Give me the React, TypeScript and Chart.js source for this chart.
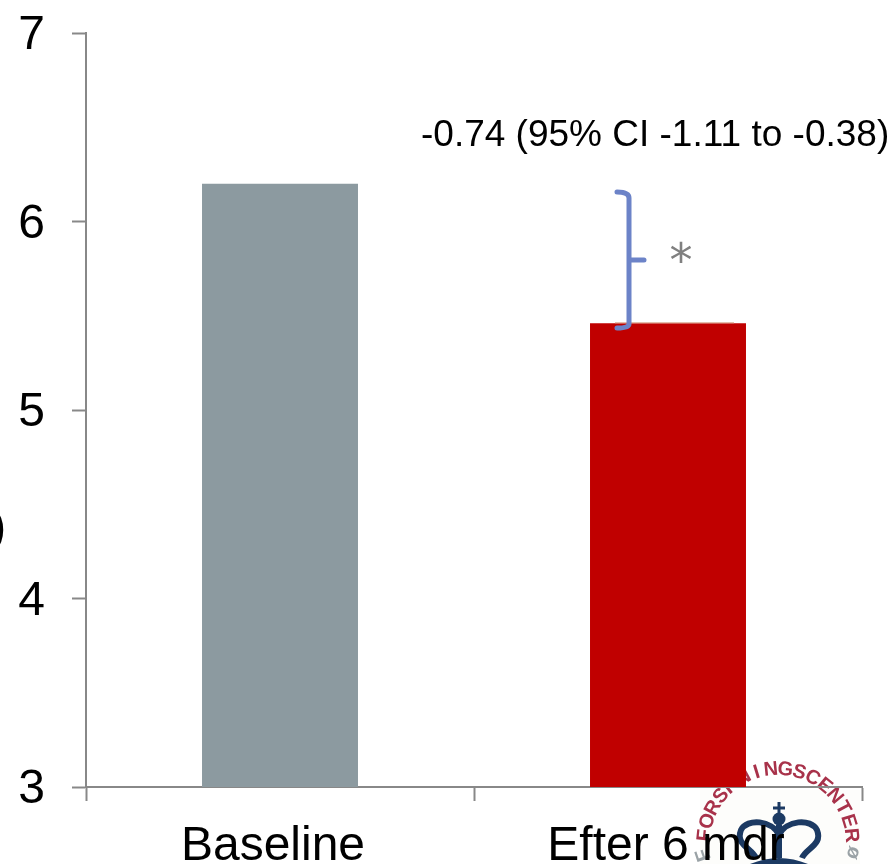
import React, { useEffect, useRef } from "react";
import { Chart, registerables } from "chart.js";

Chart.register(...registerables);

const categories = ["Baseline", "Efter 6 mdr"];
const values = [6.2, 5.46];
const barColors = ["#8C9AA0", "#C00000"];
const yMin = 3;
const yMax = 7;
const annotation = "-0.74 (95% CI -1.11 to -0.38)";
const bracketTop = 6.156;
const bracketBottom = 5.435;
const logoRing = "FORSKNINGSCENTER";
const labelShift = [-7, -2];
const FONT = '"Liberation Sans", Arial, sans-serif';

function drawLogo(ctx: CanvasRenderingContext2D) {
  const cx = 778;
  const cy = 843;
  ctx.save();
  ctx.fillStyle = "#FDFDFB";
  ctx.fillRect(700, 790, 160, 74);
  ctx.font = `bold 20px ${FONT}`;
  ctx.textAlign = "center";
  ctx.textBaseline = "alphabetic";
  ctx.fillStyle = "#A8324A";
  const start = -84;
  const step = 11.2;
  [...logoRing].forEach((ch, i) => {
    const a = ((start + i * step) * Math.PI) / 180;
    ctx.save();
    ctx.translate(cx + Math.sin(a) * 68, cy - Math.cos(a) * 68);
    ctx.rotate(a);
    ctx.fillText(ch, 0, 0);
    ctx.restore();
  });
  ctx.fillStyle = "#9AA2A6";
  const lower: [string, number, number, number][] = [
    ["F", 709, 853, -1.9],
    ["\u00F8", 848, 851, 1.9],
  ];
  lower.forEach(([ch, x, y, r]) => {
    ctx.save();
    ctx.translate(x, y);
    ctx.rotate(r);
    ctx.fillText(ch, 0, 0);
    ctx.restore();
  });

  const navy = "#1C3A63";
  ctx.strokeStyle = navy;
  ctx.fillStyle = navy;
  ctx.lineWidth = 3;
  ctx.beginPath();
  ctx.moveTo(779, 802);
  ctx.lineTo(779, 815);
  ctx.moveTo(773, 808);
  ctx.lineTo(785, 808);
  ctx.stroke();
  ctx.beginPath();
  ctx.arc(779, 819, 6.5, 0, Math.PI * 2);
  ctx.fill();
  ctx.lineWidth = 6;
  ctx.beginPath();
  ctx.moveTo(779, 825);
  ctx.lineTo(779, 858);
  ctx.moveTo(756, 858);
  ctx.bezierCurveTo(752, 848, 735, 845, 741, 830);
  ctx.bezierCurveTo(747, 818, 772, 820, 779, 835);
  ctx.bezierCurveTo(786, 820, 811, 818, 817, 830);
  ctx.bezierCurveTo(823, 845, 806, 848, 802, 858);
  ctx.stroke();
  ctx.beginPath();
  ctx.moveTo(750, 864);
  ctx.quadraticCurveTo(779, 852, 808, 864);
  ctx.closePath();
  ctx.fill();
  ctx.restore();
}

const overlays = {
  id: "overlays",
  beforeDraw(chart: any) {
    drawLogo(chart.ctx);
    const { x, y } = chart.scales;
    x.getLabelItems(chart.chartArea).forEach((item: any, i: number) => {
      if (!item.shifted) {
        item.options.translation = [item.options.translation[0] + labelShift[i], item.options.translation[1]];
        item.shifted = true;
      }
    });
    y.getLabelItems(chart.chartArea).forEach((item: any) => {
      if (!item.shifted) {
        item.options.translation = [item.options.translation[0] + 1, item.options.translation[1] + 3];
        item.shifted = true;
      }
    });
  },
  afterDraw(chart: any) {
    const { ctx, scales } = chart;
    const y = scales.y;
    const barTop = y.getPixelForValue(values[1]);
    const top = y.getPixelForValue(bracketTop);
    const bottom = y.getPixelForValue(bracketBottom);
    const mid = (top + bottom) / 2;
    ctx.save();

    ctx.strokeStyle = "#D9A58C";
    ctx.lineWidth = 1;
    ctx.beginPath();
    ctx.moveTo(615, barTop - 0.5);
    ctx.lineTo(734, barTop - 0.5);
    ctx.stroke();

    ctx.strokeStyle = "#6C83C8";
    ctx.lineWidth = 5;
    ctx.lineCap = "round";
    ctx.lineJoin = "round";
    ctx.beginPath();
    ctx.moveTo(617, top);
    ctx.quadraticCurveTo(629, top, 629, top + 6);
    ctx.lineTo(629, bottom - 4);
    ctx.quadraticCurveTo(629, bottom, 617, bottom);
    ctx.moveTo(629, mid);
    ctx.lineTo(644, mid);
    ctx.stroke();

    ctx.fillStyle = "#000000";
    ctx.font = `37px ${FONT}`;
    ctx.textAlign = "left";
    ctx.textBaseline = "alphabetic";
    ctx.fillText(annotation, 421, 146);

    ctx.font = `46px ${FONT}`;
    ctx.textAlign = "right";
    ctx.fillText(")", 6, 542);

    ctx.fillStyle = "#808080";
    ctx.font = `46px "DejaVu Sans", sans-serif`;
    ctx.textAlign = "center";
    ctx.fillText("*", 681, 276);
    ctx.restore();
  },
};

export default function App() {
  const ref = useRef<HTMLCanvasElement>(null);
  useEffect(() => {
    if (!ref.current) return;
    const chart = new Chart(ref.current, {
      type: "bar",
      data: {
        labels: categories,
        datasets: [
          {
            data: values,
            backgroundColor: barColors,
            barPercentage: 1,
            categoryPercentage: 0.402,
          },
        ],
      },
      plugins: [overlays],
      options: {
        animation: false,
        responsive: false,
        layout: { padding: { top: 33, right: 32, left: 0, bottom: 0 } },
        plugins: { legend: { display: false }, tooltip: { enabled: false } },
        scales: {
          x: {
            afterFit: (s: any) => {
              s.height = 77;
              s.paddingLeft = 0;
              s.paddingRight = 0;
            },
            grid: {
              drawOnChartArea: false,
              tickLength: 14,
              tickColor: "#888888",
              tickWidth: 2,
            },
            border: { color: "#888888", width: 2 },
            ticks: {
              color: "#000000",
              padding: 17,
              maxRotation: 0,
              font: { family: FONT, size: 48 },
            },
          },
          y: {
            min: yMin,
            max: yMax,
            afterFit: (s: any) => {
              s.width = 86;
              s.paddingTop = 0;
              s.paddingBottom = 0;
            },
            grid: {
              drawOnChartArea: false,
              tickLength: 14,
              tickColor: "#888888",
              tickWidth: 2,
            },
            border: { color: "#888888", width: 2 },
            ticks: {
              stepSize: 1,
              color: "#000000",
              padding: 28,
              font: { family: FONT, size: 48 },
            },
          },
        },
      },
    });
    return () => chart.destroy();
  }, []);
  return (
    <canvas
      ref={ref}
      width={894}
      height={864}
      style={{ position: "fixed", left: 0, top: 0, width: 894, height: 864, display: "block" }}
    />
  );
}
